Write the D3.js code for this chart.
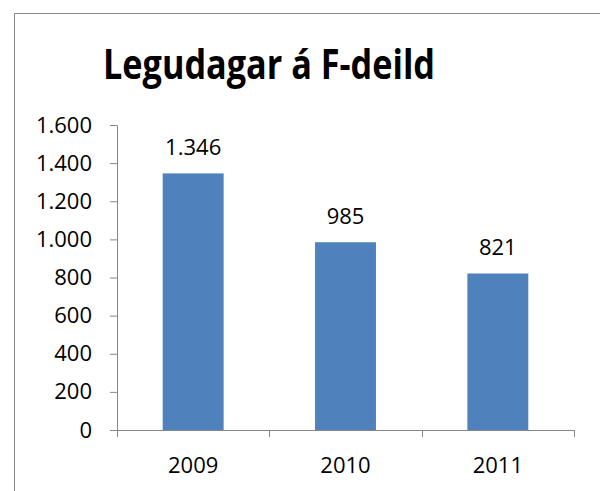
<!DOCTYPE html>
<html>
<head>
<meta charset="utf-8">
<script src="https://cdn.jsdelivr.net/npm/d3@7"></script>
<style>
  body { margin: 0; background: #fff; }
  text { font-family: "Open Sans", "Noto Sans", sans-serif; fill: #000; }
</style>
</head>
<body>
<div id="chart"></div>
<script>
const years = ["2009", "2010", "2011"];
const legudagar = [1346, 985, 821];
const yTicks = [0, 200, 400, 600, 800, 1000, 1200, 1400, 1600];
const title = "Legudagar á F-deild";

const width = 600;
const height = 491;
const margin = { top: 125, right: 26, bottom: 61, left: 117 };
const innerWidth = width - margin.left - margin.right;
const innerHeight = height - margin.top - margin.bottom;

const isl = d3.formatLocale({ decimal: ",", thousands: ".", grouping: [3], currency: ["", ""] });
const fmt = isl.format(",");

const svg = d3.select("#chart").append("svg")
  .attr("width", width)
  .attr("height", height);

// chart frame, only left and top edges are inside the window
svg.append("path")
  .attr("d", `M14.5,${height}V13.5H${width}`)
  .attr("fill", "none")
  .attr("stroke", "#878787");

svg.append("text")
  .attr("x", 269).attr("y", 79)
  .attr("text-anchor", "middle")
  .attr("font-size", 42)
  .attr("font-weight", "bold")
  .attr("textLength", 332)
  .attr("lengthAdjust", "spacingAndGlyphs")
  .text(title);

const g = svg.append("g")
  .attr("transform", `translate(${margin.left},${margin.top})`);

const x = d3.scaleBand().domain(years).range([0, innerWidth]).padding(0);
const y = d3.scaleLinear().domain([0, 1600]).range([innerHeight, 0]);

const barW = x.bandwidth() * 0.4;

// bars
g.selectAll("rect.bar")
  .data(legudagar)
  .enter()
  .append("rect")
  .attr("class", "bar")
  .attr("x", (d, i) => x(years[i]) + (x.bandwidth() - barW) / 2)
  .attr("y", (d) => y(d))
  .attr("width", barW)
  .attr("height", (d) => innerHeight - y(d))
  .attr("fill", "#4F81BD");

// value labels
g.selectAll("text.val")
  .data(legudagar)
  .enter()
  .append("text")
  .attr("class", "val")
  .attr("x", (d, i) => x(years[i]) + x.bandwidth() / 2)
  .attr("y", (d) => y(d) - 18)
  .attr("text-anchor", "middle")
  .attr("font-size", 22)
  .text((d) => fmt(d));

// y axis
const yAxis = d3.axisLeft(y)
  .tickValues(yTicks)
  .tickSize(7)
  .tickSizeOuter(0)
  .tickPadding(18)
  .tickFormat(fmt);

const yg = g.append("g").call(yAxis);
yg.attr("font-family", null);
yg.select(".domain").attr("stroke", "#868686");
yg.selectAll(".tick line").attr("stroke", "#868686");
yg.selectAll(".tick text")
  .attr("font-size", 22)
  .attr("fill", "#000");

// x axis: labels at band centres, ticks at band boundaries
const xAxis = d3.axisBottom(x).tickSize(0).tickSizeOuter(0).tickPadding(27);
const xg = g.append("g")
  .attr("transform", `translate(0,${innerHeight})`)
  .call(xAxis);
xg.attr("font-family", null);
xg.select(".domain").attr("stroke", "#868686");
xg.selectAll(".tick text")
  .attr("font-size", 22)
  .attr("fill", "#000");

const bounds = years.map((d) => x(d)).concat([x(years[years.length - 1]) + x.bandwidth()]);
xg.selectAll("line.bound")
  .data(bounds)
  .enter()
  .append("line")
  .attr("class", "bound")
  .attr("x1", (d) => Math.round(d) + 0.5)
  .attr("x2", (d) => Math.round(d) + 0.5)
  .attr("y1", 0)
  .attr("y2", 7)
  .attr("stroke", "#868686");
</script>
</body>
</html>
